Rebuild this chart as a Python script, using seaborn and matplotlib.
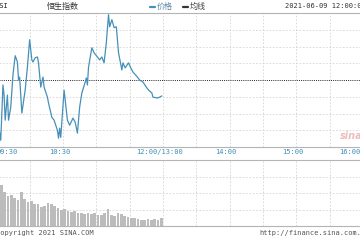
import matplotlib
matplotlib.use("Agg")
import matplotlib.pyplot as plt
import seaborn as sns
import pandas as pd
from matplotlib.lines import Line2D

# ---- data ----
minutes = [0, 4, 6, 7, 8, 10, 11, 13, 15, 17, 19, 20, 21, 23, 26, 28, 30, 32, 33, 35,
           37, 38, 40, 42, 43, 46, 47, 50, 52, 55, 56, 57, 58, 61, 64, 66, 69, 71, 73, 75,
           77, 80, 81, 82, 83, 86, 88, 91, 93, 95, 97, 99, 101, 102, 104, 106, 108, 109, 110, 113,
           114, 116, 119, 121, 123, 127, 129, 132, 135, 137, 140, 141, 145, 147, 149]
prices = [28709, 28637, 28769, 28745, 28685, 28745, 28685, 28716, 28793, 28839, 28824, 28781,
          28788, 28702, 28757, 28812, 28877, 28829, 28824, 28834, 28836, 28822, 28764, 28788,
          28764, 28740, 28726, 28692, 28685, 28661, 28642, 28666, 28644, 28757, 28685, 28673,
          28690, 28680, 28654, 28716, 28750, 28776, 28786, 28769, 28812, 28858, 28846, 28836,
          28829, 28836, 28822, 28870, 28937, 28908, 28925, 28906, 28908, 28877, 28846, 28805,
          28822, 28810, 28822, 28810, 28800, 28788, 28781, 28776, 28764, 28757, 28750, 28740,
          28738, 28740, 28743]
vol_minutes = [1.5 + 3 * i for i in range(50)]
volumes = [430, 410, 340, 300, 310, 280, 260, 340, 270, 240, 250, 220, 220, 190, 200, 230,
           220, 200, 180, 160, 170, 150, 140, 150, 130, 130, 120, 130, 120, 130, 110, 110,
           130, 170, 110, 100, 130, 120, 100, 90, 80, 80, 70, 60, 60, 70, 60, 70, 60, 80]
prev_close = 28781
price_step = 40
vol_max = 660
tick_minutes = [0, 60, 150, 210, 270, 330]
tick_labels = ["09:30", "10:30", "12:00/13:00", "14:00", "15:00", "16:00"]

# ---- layout ----
W, H = 360, 240
sns.set_style("white")
plt.rcParams["font.family"] = ["DejaVu Sans Mono", "Noto Sans CJK SC"]
fig = plt.figure(figsize=(3.6, 2.4), dpi=100)
fig.patch.set_facecolor("white")

X0, X1 = -3.7, 363.0


def rect(l, t, r, b):
    return [l / W, 1 - b / H, (r - l) / W, (b - t) / H]


def mx(m):
    return X0 + m * (X1 - X0) / 330.0


ax = fig.add_axes(rect(X0, 13, X1, 147))
axv = fig.add_axes(rect(X0, 160, X1, 226))

grid_c = "#d4d4d4"
line_c = "#4590b8"

df = pd.DataFrame({"minute": minutes, "price": prices})
sns.lineplot(data=df, x="minute", y="price", ax=ax, color=line_c, lw=0.9, zorder=3)

ax.set_xlim(0, 330)
ax.set_ylim(prev_close - 4 * price_step, prev_close + 4 * price_step)
for m in range(30, 330, 30):
    ax.axvline(m, color=grid_c, ls=(0, (2, 2)), lw=0.6, zorder=1)
for k in (-3, -2, -1, 1, 2, 3):
    ax.axhline(prev_close + k * price_step, color=grid_c, ls=(0, (2, 2)), lw=0.6, zorder=1)
ax.axhline(prev_close, color="#222222", ls=(0, (1, 1.2)), lw=0.7, zorder=2)

vdf = pd.DataFrame({"minute": vol_minutes, "volume": volumes})
sns.barplot(data=vdf, x="minute", y="volume", native_scale=True, color="#bcbcbc",
            saturation=1, width=0.72, linewidth=0, errorbar=None, ax=axv, zorder=3)
axv.set_xlim(0, 330)
axv.set_ylim(0, vol_max)
for m in range(30, 330, 30):
    axv.axvline(m, color=grid_c, ls=(0, (2, 2)), lw=0.6, zorder=1)
for k in (1, 2, 3):
    axv.axhline(vol_max * k / 4, color=grid_c, ls=(0, (2, 2)), lw=0.6, zorder=1)

for a in (ax, axv):
    a.set_xlabel("")
    a.set_ylabel("")
    a.set_xticks([])
    a.set_yticks([])
    for s in ("left", "right"):
        a.spines[s].set_visible(False)
    for s in ("top", "bottom"):
        a.spines[s].set_color("#b4b4b4")
        a.spines[s].set_linewidth(0.8)

# time labels (first one kept inside the plot's left edge, as in the source)
for i, (m, lab) in enumerate(zip(tick_minutes, tick_labels)):
    if i == 0:
        xp, ha = mx(m) + 0.5, "left"
    elif i == len(tick_minutes) - 1:
        xp, ha = 350, "center"
    else:
        xp, ha = mx(m) - 3.5, "center"
    fig.text(xp / W, 1 - 152 / H, lab, ha=ha, va="center",
             fontsize=5, color="#3d8db8", family="DejaVu Sans Mono")

# header
fig.text(-4 / W, 1 - 6 / H, "HSI", ha="left", va="center", fontsize=5, color="#222222",
         family="DejaVu Sans Mono")
fig.text(47 / W, 1 - 6.5 / H, "恒生指数", ha="left", va="center", fontsize=5.8, color="#333333",
         family=["Noto Sans CJK SC", "DejaVu Sans"])
fig.add_artist(Line2D([150 / W, 155 / W], [1 - 7 / H, 1 - 7 / H], color=line_c, lw=1.6))
fig.text(157 / W, 1 - 6.5 / H, "价格", ha="left", va="center", fontsize=5.8, color="#5a8aa2",
         family=["Noto Sans CJK SC", "DejaVu Sans"])
fig.add_artist(Line2D([183 / W, 188 / W], [1 - 7 / H, 1 - 7 / H], color="#333333", lw=1.6))
fig.text(190 / W, 1 - 6.5 / H, "均线", ha="left", va="center", fontsize=5.8, color="#444444",
         family=["Noto Sans CJK SC", "DejaVu Sans"])
fig.text(285 / W, 1 - 6 / H, "2021-06-09 12:00:00", ha="left", va="center", fontsize=5,
         color="#333333", family="DejaVu Sans Mono")

# watermark
fig.text(351 / W, 1 - 136 / H, "sina", ha="center", va="center", fontsize=7,
         style="italic", weight="bold", color="#eab0b0", alpha=0.85, family="DejaVu Sans")

# footer
fig.text(-4 / W, 1 - 233 / H, "Copyright 2021 SINA.COM", ha="left", va="center", fontsize=5,
         color="#555555", family="DejaVu Sans Mono")
fig.text(259 / W, 1 - 233 / H, "http://finance.sina.com.cn", ha="left", va="center", fontsize=5,
         color="#555555", family="DejaVu Sans Mono")

fig.savefig("out.png", dpi=100, facecolor="white")
